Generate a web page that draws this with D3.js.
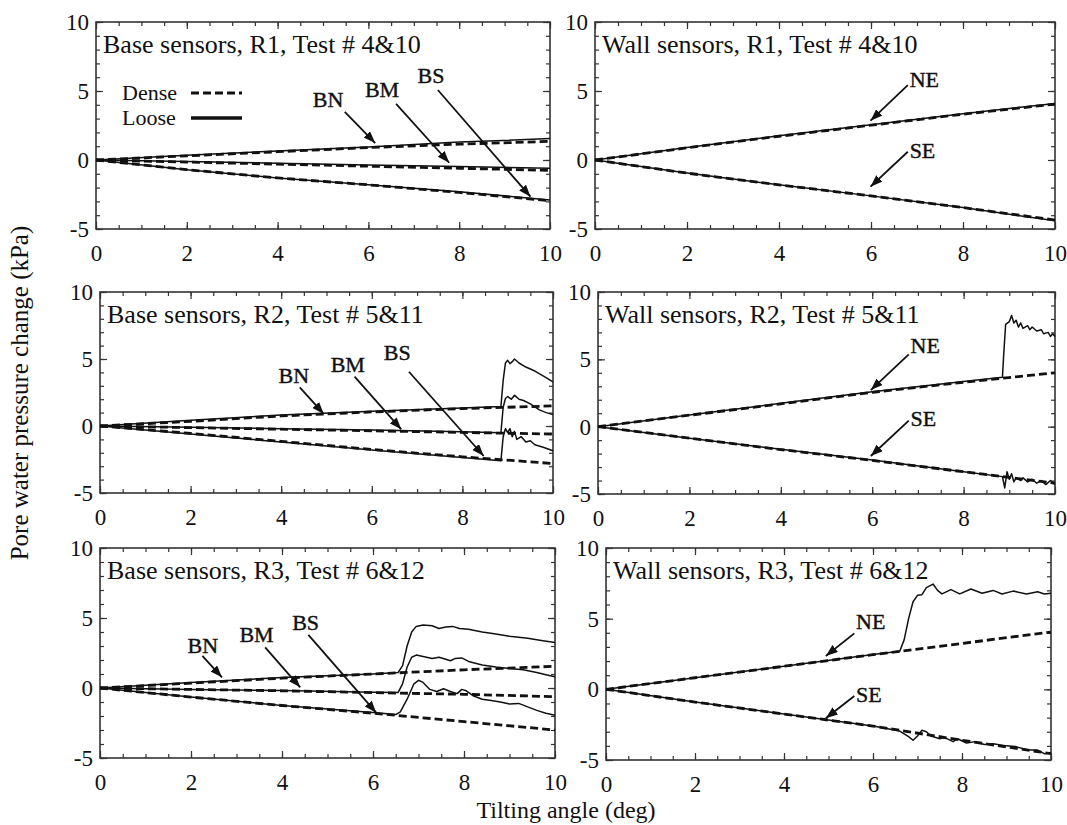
<!DOCTYPE html>
<html>
<head>
<meta charset="utf-8">
<script src="https://cdn.jsdelivr.net/npm/d3@7"></script>
<style>
  body { margin: 0; background: #fff; }
  svg text { font-family: "Liberation Serif", "Times New Roman", serif; fill: #111; }
</style>
</head>
<body>
<svg id="fig" width="1067" height="825"></svg>
<script>
// ---- data: [tilting angle (deg), pore pressure change (kPa)] ----
const xTicks = [0, 2, 4, 6, 8, 10];
const yTicks = [-5, 0, 5, 10];
const panelTitles = [
  "Base sensors, R1, Test # 4&10", "Wall sensors, R1, Test # 4&10",
  "Base sensors, R2, Test # 5&11", "Wall sensors, R2, Test # 5&11",
  "Base sensors, R3, Test # 6&12", "Wall sensors, R3, Test # 6&12"
];
const legendLabels = ["Dense", "Loose"];
const serif = '"Liberation Serif", "Times New Roman", serif';

// R1 base
const r1BN_dense = [[0,0],[2,0.3],[4,0.6],[6,0.9],[8,1.15],[10,1.35]];
const r1BN_loose = [[0,0],[2,0.35],[4,0.65],[6,0.95],[8,1.3],[10,1.55]];
const r1BM_dense = [[0,0],[2,-0.15],[4,-0.3],[6,-0.45],[8,-0.6],[10,-0.75]];
const r1BM_loose = [[0,0],[2,-0.1],[4,-0.24],[6,-0.36],[8,-0.48],[10,-0.6]];
const r1BS_dense = [[0,0],[2,-0.7],[4,-1.3],[6,-1.8],[8,-2.35],[10,-2.95]];
const r1BS_loose = [[0,0],[2,-0.7],[4,-1.3],[6,-1.8],[8,-2.3],[10,-2.9]];
// R1 wall
const r1NE_dense = [[0,0],[2,0.88],[4,1.72],[6,2.52],[8,3.32],[10,4.05]];
const r1NE_loose = [[0,0],[2,0.9],[4,1.75],[6,2.55],[8,3.35],[10,4.1]];
const r1SE_dense = [[0,0],[2,-0.95],[4,-1.8],[6,-2.6],[8,-3.45],[10,-4.35]];
const r1SE_loose = [[0,0],[2,-0.95],[4,-1.8],[6,-2.6],[8,-3.45],[10,-4.4]];

// R2 base
const r2BN_dense = [[0,0],[2,0.35],[4,0.75],[6,1.05],[8,1.3],[10,1.5]];
const r2BN_loose = [[0,0],[2,0.42],[4,0.82],[6,1.1],[8,1.35],[8.85,1.45],[8.9,3.4],[8.95,4.7],[9.0,4.9],
  [9.05,4.65],[9.1,4.8],[9.15,5.0],[9.25,4.7],[9.4,4.4],[9.6,4.1],[9.8,3.7],[10,3.3]];
const r2BM_dense = [[0,0],[2,-0.12],[4,-0.24],[6,-0.36],[8,-0.48],[10,-0.6]];
const r2BM_loose = [[0,0],[2,-0.1],[4,-0.2],[6,-0.3],[8,-0.42],[8.85,-0.5],[8.9,1.4],[8.95,2.05],[9.0,2.2],
  [9.08,2.0],[9.15,2.3],[9.25,2.0],[9.35,1.9],[9.5,1.65],[9.7,1.2],[9.85,1.0],[10,0.85]];
const r2BS_dense = [[0,0],[2,-0.55],[4,-1.15],[6,-1.75],[8,-2.3],[10,-2.8]];
const r2BS_loose = [[0,0],[2,-0.6],[4,-1.2],[6,-1.8],[8,-2.35],[8.85,-2.6],[8.9,-0.8],[8.95,-0.2],[9.0,-0.5],
  [9.05,-0.2],[9.1,-0.8],[9.15,-0.4],[9.2,-1.0],[9.3,-0.8],[9.4,-1.2],[9.5,-1.1],[9.6,-1.4],[9.8,-1.6],[10,-1.85]];
// R2 wall
const r2NE_dense = [[0,0],[2,0.85],[4,1.7],[6,2.55],[8,3.3],[10,4.0]];
const r2NE_loose = [[0,0],[2,0.87],[4,1.74],[6,2.6],[8,3.35],[8.85,3.67],[8.88,5.5],[8.92,7.6],[9.0,7.8],
  [9.05,8.25],[9.1,7.7],[9.15,7.9],[9.2,7.4],[9.25,7.7],[9.3,7.3],[9.4,7.5],[9.45,7.2],[9.5,7.4],[9.6,7.1],
  [9.7,7.2],[9.75,6.9],[9.85,7.0],[9.9,6.7],[9.95,6.9],[10,6.7]];
const r2SE_dense = [[0,0],[2,-0.86],[4,-1.7],[6,-2.5],[8,-3.35],[10,-4.2]];
const r2SE_loose = [[0,0],[2,-0.86],[4,-1.68],[6,-2.47],[8,-3.35],[8.85,-3.71],[8.9,-4.55],[8.95,-3.35],
  [9.0,-3.9],[9.05,-3.5],[9.1,-4.1],[9.15,-3.8],[9.25,-4.0],[9.3,-3.8],[9.4,-4.1],[9.5,-3.9],[9.6,-4.2],
  [9.7,-4.0],[9.8,-4.3],[9.9,-4.0],[10,-4.3]];

// R3 base
const r3BN_dense = [[0,0],[2,0.35],[4,0.7],[6,1.0],[8,1.3],[10,1.55]];
const r3BN_loose = [[0,0],[2,0.4],[4,0.75],[6,1.0],[6.55,1.1],[6.65,1.6],[6.75,3.0],[6.85,4.0],[6.95,4.4],
  [7.1,4.5],[7.3,4.45],[7.45,4.25],[7.6,4.35],[7.75,4.4],[7.9,4.25],[8.1,4.2],[8.4,4.0],[8.7,3.85],[9.0,3.7],
  [9.4,3.55],[9.7,3.4],[10,3.25]];
const r3BM_dense = [[0,0],[2,-0.1],[4,-0.2],[6,-0.33],[8,-0.45],[10,-0.62]];
const r3BM_loose = [[0,0],[2,-0.1],[4,-0.18],[6,-0.3],[6.55,-0.33],[6.65,0.3],[6.75,1.5],[6.85,2.2],[6.95,2.35],
  [7.1,2.25],[7.3,2.1],[7.45,2.2],[7.6,2.05],[7.7,1.95],[7.8,2.1],[7.95,2.15],[8.1,1.9],[8.4,1.65],[8.7,1.5],
  [9.0,1.4],[9.3,1.3],[9.6,1.1],[9.8,0.95],[10,0.8]];
const r3BS_dense = [[0,0],[2,-0.65],[4,-1.25],[6,-1.8],[8,-2.4],[10,-3.0]];
const r3BS_loose = [[0,0],[2,-0.65],[4,-1.25],[6,-1.75],[6.5,-1.9],[6.6,-1.7],[6.75,-0.8],[6.9,0.3],[7.0,0.55],
  [7.1,0.4],[7.25,-0.1],[7.4,-0.25],[7.55,-0.05],[7.7,-0.25],[7.85,-0.4],[7.95,-0.1],[8.05,-0.2],[8.2,-0.55],
  [8.4,-0.8],[8.6,-0.9],[8.8,-1.0],[9.0,-1.15],[9.2,-1.1],[9.4,-1.35],[9.6,-1.6],[9.8,-1.8],[10,-1.95]];
// R3 wall
const r3NE_dense = [[0,0],[2,0.82],[4,1.63],[6,2.45],[8,3.25],[10,4.05]];
const r3NE_loose = [[0,0],[2,0.82],[4,1.64],[6,2.46],[6.6,2.7],[6.7,3.5],[6.8,5.0],[6.9,6.2],[7.0,6.65],
  [7.1,6.7],[7.2,7.2],[7.35,7.45],[7.45,7.0],[7.55,6.75],[7.75,7.05],[7.95,6.75],[8.2,7.1],[8.45,6.8],
  [8.7,7.0],[8.9,6.75],[9.15,6.95],[9.45,6.75],[9.7,6.9],[9.85,6.75],[10,6.8]];
const r3SE_dense = [[0,0],[2,-0.9],[4,-1.75],[6,-2.6],[8,-3.6],[10,-4.55]];
const r3SE_loose = [[0,0],[2,-0.9],[4,-1.75],[6,-2.6],[6.6,-2.95],[6.8,-3.35],[6.9,-3.6],[7.0,-3.3],[7.1,-2.9],
  [7.2,-3.0],[7.3,-3.3],[7.5,-3.5],[7.6,-3.4],[7.8,-3.7],[7.9,-3.5],[8.1,-3.8],[8.3,-3.7],[8.5,-3.9],
  [8.7,-3.85],[9.0,-4.0],[9.2,-4.05],[9.5,-4.3],[9.7,-4.3],[9.85,-4.55],[10,-4.5]];

// ---- layout ----
// box: [left, top, right, bottom] in px; notes in data coords: label point, arrow start, arrow tip
const panels = [
  { box: [96, 22, 550, 229], title: panelTitles[0],
    dense: [r1BN_dense, r1BM_dense, r1BS_dense], loose: [r1BN_loose, r1BM_loose, r1BS_loose],
    notes: [
      { t: "BN", tx: 5.11, ty: 3.84, a: "middle", x1: 5.48, y1: 3.48, x2: 6.15, y2: 1.23 },
      { t: "BM", tx: 6.3, ty: 4.6, a: "middle", x1: 6.61, y1: 4.06, x2: 7.78, y2: -0.2 },
      { t: "BS", tx: 7.38, ty: 5.56, a: "middle", x1: 7.53, y1: 5.07, x2: 9.57, y2: -2.66 }] },
  { box: [595, 22, 1055, 229], title: panelTitles[1],
    dense: [r1NE_dense, r1SE_dense], loose: [r1NE_loose, r1SE_loose],
    notes: [
      { t: "NE", tx: 6.84, ty: 5.31, a: "start", x1: 6.8, y1: 5.43, x2: 5.99, y2: 2.85 },
      { t: "SE", tx: 6.84, ty: 0.12, a: "start", x1: 6.8, y1: 0.6, x2: 5.99, y2: -1.93 }] },
  { box: [100, 292, 553, 493], title: panelTitles[2],
    dense: [r2BN_dense, r2BM_dense, r2BS_dense], loose: [r2BN_loose, r2BM_loose, r2BS_loose],
    notes: [
      { t: "BN", tx: 4.28, ty: 3.19, a: "middle", x1: 4.41, y1: 2.89, x2: 4.94, y2: 0.9 },
      { t: "BM", tx: 5.47, ty: 4.05, a: "middle", x1: 5.62, y1: 3.68, x2: 6.65, y2: -0.25 },
      { t: "BS", tx: 6.56, ty: 4.93, a: "middle", x1: 6.82, y1: 4.05, x2: 8.47, y2: -2.24 }] },
  { box: [598, 292, 1055, 494], title: panelTitles[3],
    dense: [r2NE_dense, r2SE_dense], loose: [r2NE_loose, r2SE_loose],
    notes: [
      { t: "NE", tx: 6.84, ty: 5.45, a: "start", x1: 6.8, y1: 5.37, x2: 5.97, y2: 2.72 },
      { t: "SE", tx: 6.84, ty: 0.05, a: "start", x1: 6.8, y1: 0.45, x2: 5.97, y2: -2.18 }] },
  { box: [100, 548, 555, 758], title: panelTitles[4],
    dense: [r3BN_dense, r3BM_dense, r3BS_dense], loose: [r3BN_loose, r3BM_loose, r3BS_loose],
    notes: [
      { t: "BN", tx: 2.26, ty: 2.48, a: "middle", x1: 2.25, y1: 2.29, x2: 2.68, y2: 0.76 },
      { t: "BM", tx: 3.44, ty: 3.31, a: "middle", x1: 3.63, y1: 2.9, x2: 4.4, y2: 0.05 },
      { t: "BS", tx: 4.52, ty: 4.14, a: "middle", x1: 4.58, y1: 3.79, x2: 6.07, y2: -1.76 }] },
  { box: [606, 548, 1051, 760], title: panelTitles[5],
    dense: [r3NE_dense, r3SE_dense], loose: [r3NE_loose, r3SE_loose],
    notes: [
      { t: "NE", tx: 5.62, ty: 4.25, a: "start", x1: 5.58, y1: 3.96, x2: 4.94, y2: 2.36 },
      { t: "SE", tx: 5.62, ty: -0.88, a: "start", x1: 5.58, y1: -0.47, x2: 4.94, y2: -2.05 }] }
];

const svg = d3.select("#fig");
const frameColor = "#333";

svg.append("defs").append("marker")
  .attr("id", "arrow")
  .attr("markerUnits", "userSpaceOnUse")
  .attr("markerWidth", 13).attr("markerHeight", 10)
  .attr("refX", 12).attr("refY", 4.5)
  .attr("orient", "auto")
  .append("path").attr("d", "M0,0 L12,4.5 L0,9 Z").attr("fill", "#111");

panels.forEach(function(p) {
  const [x0, y0, x1, y1] = p.box;
  const x = d3.scaleLinear().domain([0, 10]).range([x0, x1]);
  const y = d3.scaleLinear().domain([-5, 10]).range([y1, y0]);
  const g = svg.append("g");

  const minorX = d3.range(0, 10.01, 0.5), minorY = d3.range(-5, 10.01, 1);

  // inward ticks on all four sides
  const addAxis = (axis, tr) => {
    const a = g.append("g").attr("transform", tr).call(axis)
      .attr("font-family", null).attr("font-size", null);
    a.select(".domain").remove();
    a.selectAll("line").attr("stroke", frameColor).attr("stroke-width", 1.2);
    return a;
  };
  addAxis(d3.axisBottom(x).tickValues(minorX).tickSize(-4).tickFormat(""), `translate(0,${y1})`);
  addAxis(d3.axisTop(x).tickValues(minorX).tickSize(-4).tickFormat(""), `translate(0,${y0})`);
  addAxis(d3.axisLeft(y).tickValues(minorY).tickSize(-4).tickFormat(""), `translate(${x0},0)`);
  addAxis(d3.axisRight(y).tickValues(minorY).tickSize(-4).tickFormat(""), `translate(${x1},0)`);
  addAxis(d3.axisTop(x).tickValues(xTicks).tickSize(-7).tickFormat(""), `translate(0,${y0})`);
  addAxis(d3.axisRight(y).tickValues(yTicks).tickSize(-7).tickFormat(""), `translate(${x1},0)`);

  const xa = addAxis(d3.axisBottom(x).tickValues(xTicks).tickSize(-7).tickPadding(16), `translate(0,${y1})`);
  xa.selectAll("text").attr("font-size", 23).attr("fill", "#111").style("font-family", serif);
  const ya = addAxis(d3.axisLeft(y).tickValues(yTicks).tickSize(-7).tickPadding(7), `translate(${x0},0)`);
  ya.selectAll("text").attr("font-size", 23).attr("fill", "#111").style("font-family", serif)
    .text(d => d < 0 ? "-" + Math.abs(d) : d);

  // frame
  g.append("rect").attr("x", x0).attr("y", y0).attr("width", x1 - x0).attr("height", y1 - y0)
    .attr("fill", "none").attr("stroke", frameColor).attr("stroke-width", 1.6);

  const line = d3.line().x(d => x(d[0])).y(d => y(d[1]));

  g.selectAll(".dense").data(p.dense).enter().append("path")
    .attr("d", line).attr("fill", "none").attr("stroke", "#111")
    .attr("stroke-width", 2.8).attr("stroke-dasharray", "8,4");
  g.selectAll(".loose").data(p.loose).enter().append("path")
    .attr("d", line).attr("fill", "none").attr("stroke", "#111")
    .attr("stroke-width", 1.5).attr("stroke-linejoin", "round");

  g.append("text").attr("x", x0 + 7).attr("y", y0 + 31)
    .attr("font-size", 26).style("font-family", serif).text(p.title);

  p.notes.forEach(function(n) {
    g.append("text").attr("x", x(n.tx)).attr("y", y(n.ty)).attr("text-anchor", n.a)
      .attr("font-size", 22).style("font-family", serif)
      .attr("stroke", "#111").attr("stroke-width", 0.4).text(n.t);
    g.append("line").attr("x1", x(n.x1)).attr("y1", y(n.y1)).attr("x2", x(n.x2)).attr("y2", y(n.y2))
      .attr("stroke", "#111").attr("stroke-width", 1.8).attr("marker-end", "url(#arrow)");
  });
});

// legend in the first panel
const leg = svg.append("g");
legendLabels.forEach(function(name, i) {
  const yy = 100 + i * 25;
  leg.append("text").attr("x", 122).attr("y", yy).attr("font-size", 22)
    .style("font-family", serif).text(name);
  leg.append("line").attr("x1", 191).attr("x2", 242).attr("y1", yy - 7).attr("y2", yy - 7)
    .attr("stroke", "#111").attr("stroke-width", i === 0 ? 2.8 : 3.6)
    .attr("stroke-dasharray", i === 0 ? "8,4" : null);
});

// axis titles
svg.append("text").attr("x", 566).attr("y", 818).attr("text-anchor", "middle")
  .attr("font-size", 24).style("font-family", serif).text("Tilting angle (deg)");
svg.append("text").attr("transform", "translate(28,393) rotate(-90)").attr("text-anchor", "middle")
  .attr("font-size", 25).style("font-family", serif).text("Pore water pressure change (kPa)");
</script>
</body>
</html>
